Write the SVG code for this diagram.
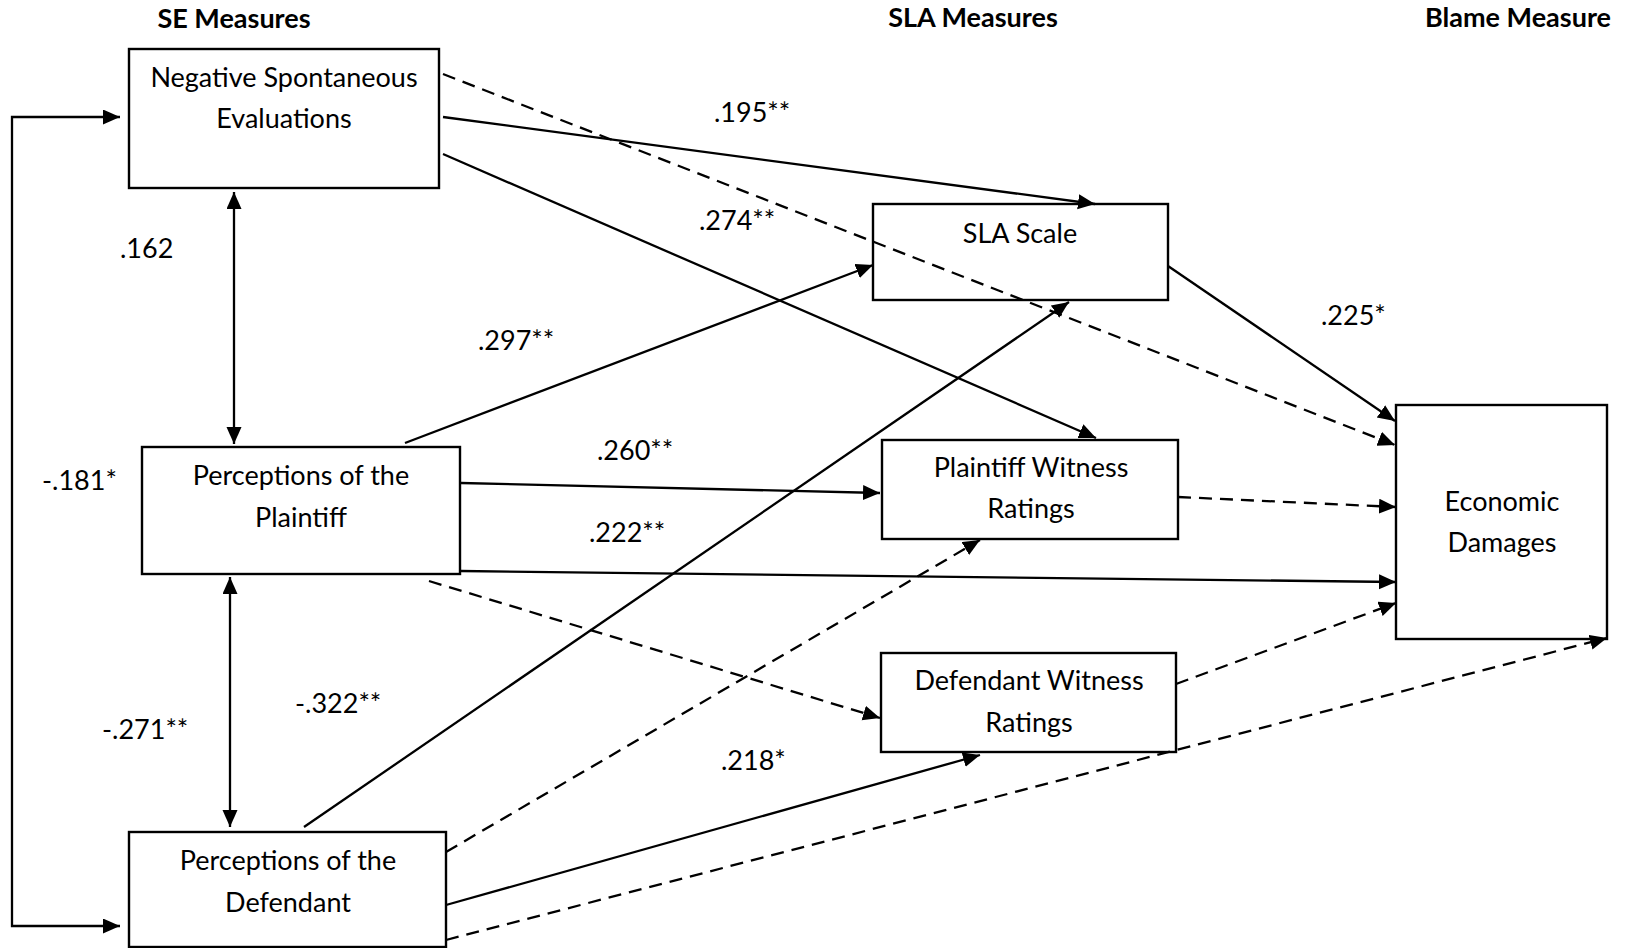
<svg xmlns="http://www.w3.org/2000/svg" width="1629" height="948" viewBox="0 0 1629 948">
  <style>
    .box { fill: none; stroke: #000000; stroke-width: 2.4; }
    .t { font-family: Lato, "Open Sans", sans-serif; font-size: 27px; fill: #000000; }
    .c { text-anchor: middle; }
    .h { font-family: Lato, "Open Sans", sans-serif; font-size: 27px; font-weight: bold; fill: #000000; text-anchor: middle; }
    .ln { fill: none; stroke: #000000; stroke-width: 2.3; }
    .dash { stroke-dasharray: 13 8; }
    .arr { marker-end: url(#head); }
    .both { marker-start: url(#head); marker-end: url(#head); }
  </style>
  <defs>
    <marker id="head" markerUnits="userSpaceOnUse" markerWidth="18" markerHeight="16" refX="17" refY="7.5" orient="auto-start-reverse">
      <path d="M0,0 L17,7.5 L0,15 z" fill="#000000"/>
    </marker>
  </defs>
  <rect width="1629" height="948" fill="#ffffff"/>

  <!-- column headings -->
  <g id="headings">
    <text class="h" x="234" y="28">SE Measures</text>
    <text class="h" x="973" y="27">SLA Measures</text>
    <text class="h" x="1518" y="27">Blame Measure</text>
  </g>

  <!-- paths between measures -->
  <g id="connectors">
    <polyline class="ln both" points="120,117 12,117 12,926 120,926"/>
    <line class="ln both" x1="234" y1="192" x2="234" y2="444"/>
    <line class="ln both" x1="230" y1="577" x2="230" y2="827"/>

    <line class="ln dash arr" x1="443" y1="74" x2="1395" y2="445"/>
    <line class="ln arr" x1="443" y1="117" x2="1095" y2="204"/>
    <line class="ln arr" x1="443" y1="154" x2="1096" y2="438"/>

    <line class="ln arr" x1="405" y1="443" x2="873" y2="265"/>
    <line class="ln arr" x1="461" y1="483" x2="880" y2="493"/>
    <line class="ln arr" x1="461" y1="571" x2="1396" y2="582"/>
    <line class="ln dash arr" x1="429" y1="581" x2="880" y2="718"/>

    <line class="ln arr" x1="304" y1="827" x2="1069" y2="302"/>
    <line class="ln dash arr" x1="446" y1="852" x2="980" y2="540"/>
    <line class="ln arr" x1="446" y1="905" x2="980" y2="755"/>
    <line class="ln dash arr" x1="446" y1="940" x2="1607" y2="638"/>

    <line class="ln arr" x1="1168" y1="266" x2="1395" y2="421"/>
    <line class="ln dash arr" x1="1178" y1="497" x2="1396" y2="507"/>
    <line class="ln dash arr" x1="1176" y1="684" x2="1396" y2="603"/>
  </g>

  <!-- path coefficients -->
  <g id="coefficients" class="t">
    <text x="714" y="122">.195**</text>
    <text x="699" y="230">.274**</text>
    <text x="120" y="258">.162</text>
    <text x="478" y="350">.297**</text>
    <text x="1321" y="325">.225*</text>
    <text x="42" y="490">-.181*</text>
    <text x="597" y="460">.260**</text>
    <text x="589" y="542">.222**</text>
    <text x="295" y="713">-.322**</text>
    <text x="102" y="739">-.271**</text>
    <text x="721" y="770">.218*</text>
  </g>

  <g id="neg-spont-eval">
    <rect class="box" x="129" y="49" width="310" height="139"/>
    <text class="t c" x="284" y="87">Negative Spontaneous</text>
    <text class="t c" x="284" y="128">Evaluations</text>
  </g>

  <g id="perc-plaintiff">
    <rect class="box" x="142" y="447" width="318" height="127"/>
    <text class="t c" x="301" y="485">Perceptions of the</text>
    <text class="t c" x="301" y="527">Plaintiff</text>
  </g>

  <g id="perc-defendant">
    <rect class="box" x="129" y="832" width="317" height="115"/>
    <text class="t c" x="288" y="870">Perceptions of the</text>
    <text class="t c" x="288" y="912">Defendant</text>
  </g>

  <g id="sla-scale">
    <rect class="box" x="873" y="204" width="295" height="96"/>
    <text class="t c" x="1020" y="243">SLA Scale</text>
  </g>

  <g id="plaintiff-witness">
    <rect class="box" x="882" y="440" width="296" height="99"/>
    <text class="t c" x="1031" y="477">Plaintiff Witness</text>
    <text class="t c" x="1031" y="518">Ratings</text>
  </g>

  <g id="defendant-witness">
    <rect class="box" x="881" y="653" width="295" height="99"/>
    <text class="t c" x="1029" y="690">Defendant Witness</text>
    <text class="t c" x="1029" y="732">Ratings</text>
  </g>

  <g id="economic-damages">
    <rect class="box" x="1396" y="405" width="211" height="234"/>
    <text class="t c" x="1502" y="511">Economic</text>
    <text class="t c" x="1502" y="552">Damages</text>
  </g>
</svg>
